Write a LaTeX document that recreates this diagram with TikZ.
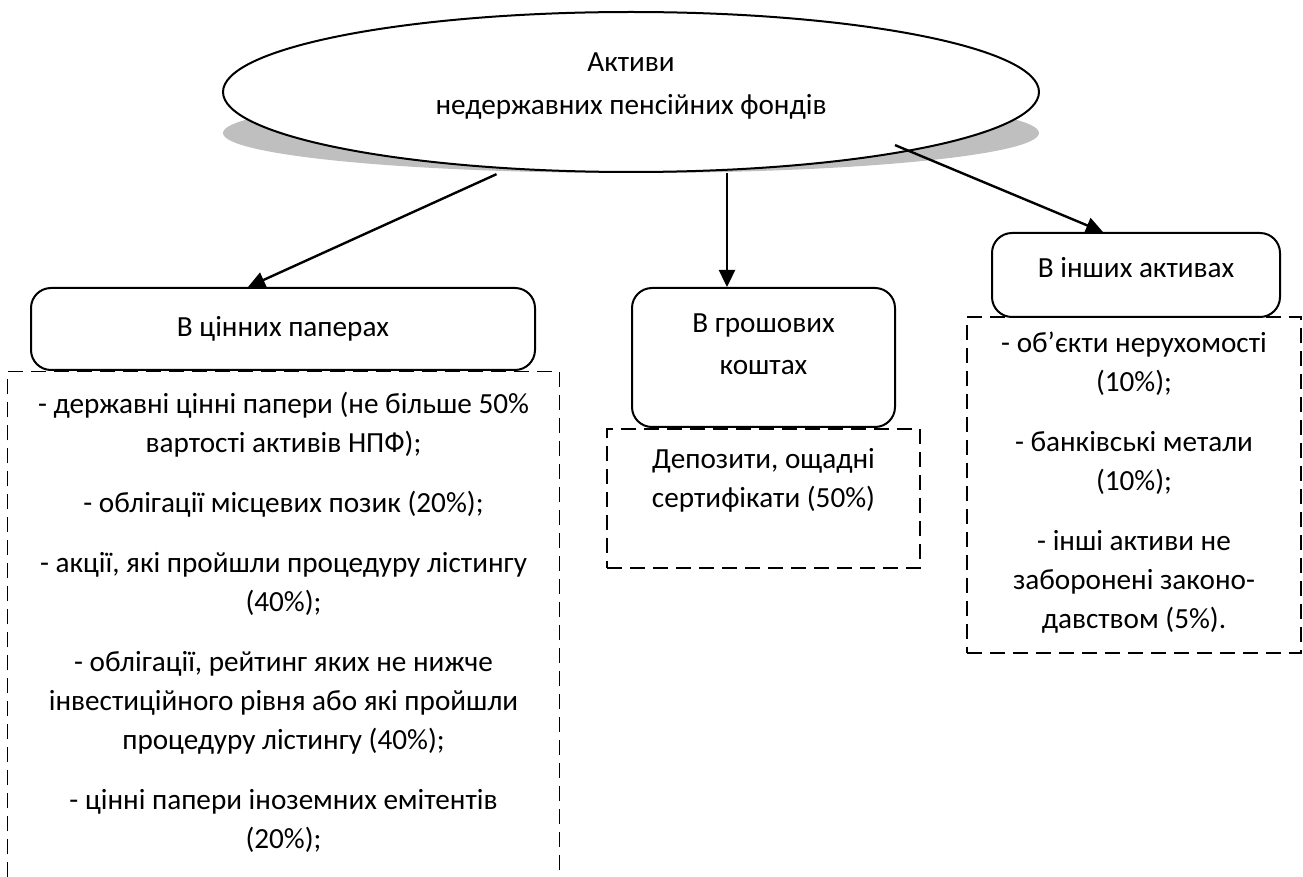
\documentclass[tikz,border=0pt]{standalone}
\usepackage{fontspec}
\setmainfont{Carlito}
\usetikzlibrary{shapes.geometric,arrows.meta}

\tikzset{
  oval/.style={ellipse, draw, line width=1pt, fill=white, minimum width=408pt, minimum height=80pt, inner sep=0pt, align=center},
  topbox/.style={draw, rounded corners=10pt, line width=1pt, fill=white, align=center, inner sep=0pt},
  dashline/.style={dashed, dash pattern=on 7.5pt off 4pt, line width=0.75pt},
  dashbox/.style={draw, dashline, inner sep=0pt},
  frame/.style={inner sep=0pt},
  lst/.style={align=center, inner sep=0pt},
  arr/.style={-{Triangle[length=8.5pt,width=8pt]}, line width=1.2pt},
}

\begin{document}
\begin{tikzpicture}[x=0.5pt, y=-0.5pt, font=\fontsize{14.6}{19.5}\selectfont]
\useasboundingbox (0,0) rectangle (1303,877);

% oval with its shadow
\fill[black!25] (631,133) ellipse [x radius=408, y radius=40];
\node[oval, text depth=8pt] (act) at (631,92) {Активи\\[2pt]недержавних пенсійних фондів};

% dashed frames
\node[frame, minimum width=275.5pt, minimum height=252.5pt] (sec1) at (283.5,624.5) {};
\draw[dashline] (sec1.south west) -- (sec1.north west) -- (sec1.north east) -- (sec1.south east);
\node[dashbox, minimum width=156.5pt, minimum height=69.5pt] (sec2) at (763.5,498.5) {};
\node[dashbox, minimum width=167pt, minimum height=168pt] (sec3) at (1134,485) {};

% kinds of assets
\node[topbox, minimum width=252pt, minimum height=41pt] (b1) at (283,329) {В цінних паперах};
\node[topbox, minimum width=131.5pt, minimum height=69.5pt, text depth=13.5pt] (b2) at (763.5,357.5) {В грошових\\[1.5pt]коштах};
\node[topbox, minimum width=144pt, minimum height=42pt, text depth=8pt] (b3) at (1136,275) {В інших активах};

% lists
\node[lst] (t1) at (283.5,622) {- державні цінні папери (не більше 50\%\\вартості активів НПФ);\\[10.5pt]
  - облігації місцевих позик (20\%);\\[10.5pt]
  - акції, які пройшли процедуру лістингу\\(40\%);\\[10.5pt]
  - облігації, рейтинг яких не нижче\\інвестиційного рівня або які пройшли\\процедуру лістингу (40\%);\\[10.5pt]
  - цінні папери іноземних емітентів\\(20\%);};
\node[lst] (t2) at (763.5,480) {Депозити, ощадні\\сертифікати (50\%)};
\node[lst] (t3) at (1134,482.5) {- об’єкти нерухомості\\(10\%);\\[10.5pt]
  - банківські метали\\(10\%);\\[10.5pt]
  - інші активи не\\заборонені законо-\\давством (5\%).};

% arrows
\coordinate (in1) at ([xshift=-17.5pt]b1.north);
\coordinate (in2) at ([xshift=-18.25pt]b2.north);
\coordinate (in3) at ([xshift=-16.5pt]b3.north);
\draw[arr, shorten <=6pt] (act.212) -- (in1);
\draw[arr] (act.south -| in2) -- (in2);
\draw[arr, shorten <=-8pt] (act.-12) -- (in3);
\end{tikzpicture}
\end{document}
